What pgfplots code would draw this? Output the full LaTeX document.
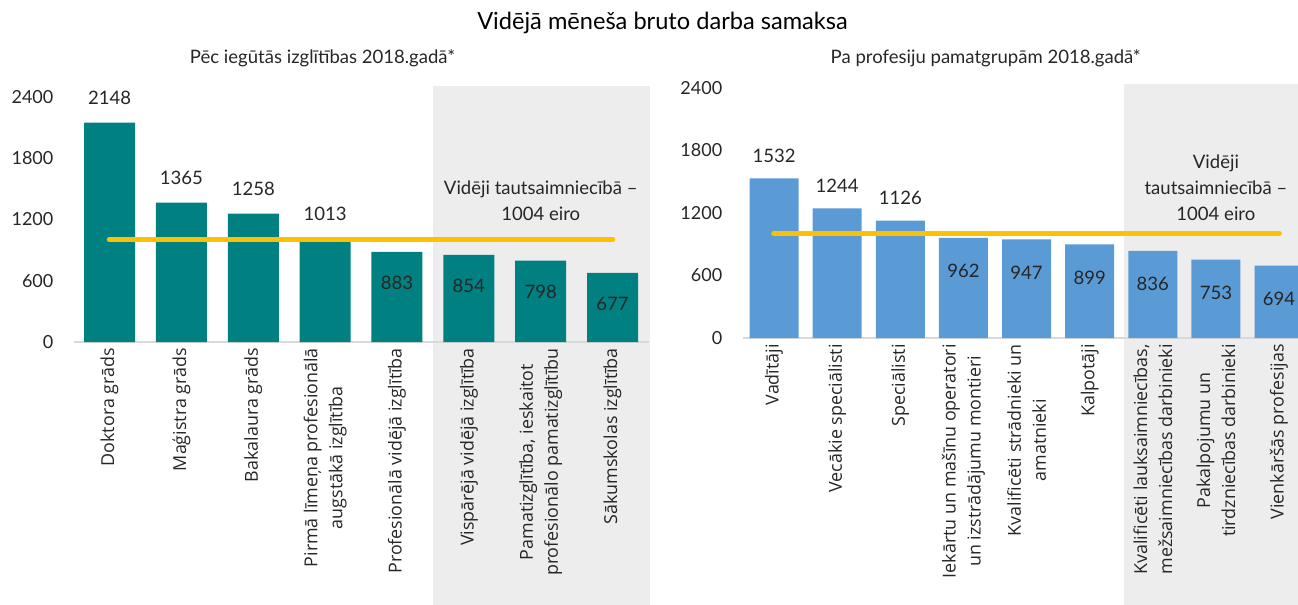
\documentclass[border=0pt]{standalone}
\usepackage{fontspec}
\setmainfont{Lato}
\newfontfamily\osans{Open Sans}
\usepackage{pgfplots}
\pgfplotsset{compat=1.18}
\definecolor{teal1}{RGB}{0,128,128}
\definecolor{blue1}{RGB}{91,155,213}
\definecolor{gold1}{RGB}{255,192,0}
\definecolor{bg1}{RGB}{237,237,237}
\definecolor{txt}{RGB}{38,38,38}
\definecolor{axl}{RGB}{217,217,217}
\pgfplotsset{
  mybase/.style={
    scale only axis, anchor=south west,
    ymin=0, ymax=2400,
    ytick={0,600,1200,1800,2400},
    yticklabels={0,600,1200,1800,2400},
    axis x line*=bottom, axis y line*=left,
    x axis line style={draw=axl, line width=1pt, -},
    y axis line style={draw=none},
    major tick length=0pt,
    tick style={draw=none},
    yticklabel style={font=\fontsize{13.5}{16}\selectfont, text=txt, anchor=east, inner sep=0pt},
    yticklabel shift=15pt,
    xtick distance=1,
    xticklabel style={font=\osans\fontsize{13.4}{18.75}\selectfont, text=txt, rotate=90, anchor=east, align=center, inner sep=0pt},
    xticklabel shift=4.5pt,
    ybar, bar shift=0pt,
    /pgf/number format/assume math mode=true,
    /pgf/number format/1000 sep={},
    every node near coord/.append style={font=\fontsize{13.9}{16}\selectfont, text=txt, anchor=center},
  }
}
\begin{document}
\begin{tikzpicture}
\useasboundingbox (0,0) rectangle (973.5pt,-453.75pt);
\fill[bg1] (324.75pt,-64.5pt) rectangle (487.5pt,-453.75pt);
\fill[bg1] (843pt,-63pt) rectangle (973.5pt,-453.75pt);
\node[font=\fontsize{17.7}{20}\selectfont, text=black] at (496.9pt,-17.25pt) {Vidējā mēneša bruto darba samaksa};
\node[font=\fontsize{13.9}{16}\selectfont, text=txt] at (241.9pt,-43.5pt) {Pēc iegūtās izglītības 2018.gadā*};
\node[font=\fontsize{13.9}{16}\selectfont, text=txt] at (739.3pt,-43.5pt) {Pa profesiju pamatgrupām 2018.gadā*};

\begin{axis}[mybase,
  at={(55.2pt,-256.5pt)},
  width=431.2pt, height=183.75pt,
  xmin=-0.5, xmax=7.5,
  bar width=38.25pt,
  xtick={0,1,2,3,4,5,6,7},
  xticklabels={Doktora grāds, Maģistra grāds, Bakalaura grāds, {Pirmā līmeņa profesionālā\\augstākā izglītība}, Profesionālā vidējā izglītība, Vispārējā vidējā izglītība, {Pamatizglītība, ieskaitot\\profesionālo pamatizglītību}, Sākumskolas izglītība},
]
\addplot[fill=teal1, draw=none, nodes near coords, every node near coord/.append style={yshift=18.75pt}]
  coordinates {(0,2148) (1,1365) (2,1258) (3,1013)};
\addplot[fill=teal1, draw=none, nodes near coords, every node near coord/.append style={yshift=-23.25pt}]
  coordinates {(4,883) (5,854) (6,798) (7,677)};
\addplot[sharp plot, gold1, line width=4.25pt, line cap=round] coordinates {(0,1004) (7,1004)};
\node[font=\fontsize{13.9}{19.5}\selectfont, text=txt, align=center] at (axis cs:6,1381) {Vidēji tautsaimniecībā –\\1004 eiro};
\end{axis}

\begin{axis}[mybase,
  at={(556.875pt,-253.5pt)},
  width=416.6pt, height=187.5pt,
  xmin=-0.5, xmax=8.30,
  bar width=36.75pt,
  xtick={0,1,2,3,4,5,6,7,8},
  xticklabels={Vadītāji, Vecākie speciālisti, Speciālisti, {Iekārtu un mašīnu operatori\\un izstrādājumu montieri}, {Kvalificēti strādnieki un\\amatnieki}, Kalpotāji, {Kvalificēti lauksaimniecības,\\mežsaimniecības darbinieki}, {Pakalpojumu un\\tirdzniecības darbinieki}, Vienkāršās profesijas},
]
\addplot[fill=blue1, draw=none, nodes near coords, every node near coord/.append style={yshift=17.25pt}]
  coordinates {(0,1532) (1,1244) (2,1126)};
\addplot[fill=blue1, draw=none, nodes near coords, every node near coord/.append style={yshift=-25pt}]
  coordinates {(3,962) (4,947) (5,899) (6,836) (7,753) (8,694)};
\addplot[sharp plot, gold1, line width=4.25pt, line cap=round] coordinates {(0,1004) (8,1004)};
\node[font=\fontsize{13.9}{19.5}\selectfont, text=txt, align=center] at (axis cs:7,1440) {Vidēji\\tautsaimniecībā –\\1004 eiro};
\end{axis}
\end{tikzpicture}
\end{document}
